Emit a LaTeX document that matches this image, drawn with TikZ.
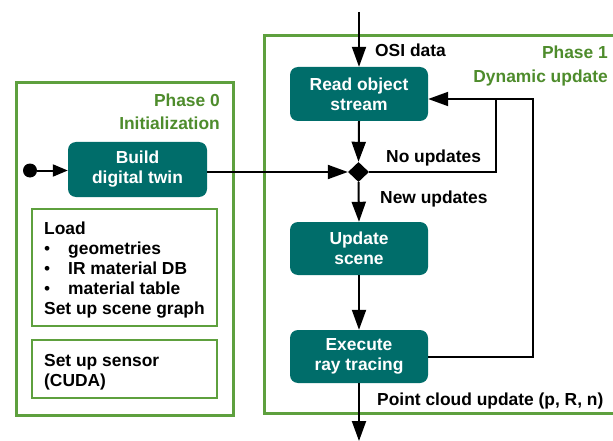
\documentclass[tikz,border=0pt]{standalone}
\usepackage{fontspec}
\setmainfont{Liberation Sans}
\usetikzlibrary{arrows.meta,shapes.geometric}
\definecolor{teal1}{HTML}{006D6A}
\definecolor{grn}{HTML}{5EA03E}
\definecolor{grntxt}{HTML}{4E8C2C}
\tikzset{
  txt/.style={font=\fontsize{17.4}{20}\selectfont\bfseries, inner sep=0pt},
  stepbox/.style={draw=none, fill=teal1, text=white, rounded corners=8pt, minimum width=138pt, minimum height=54pt, align=center, txt},
  phasebox/.style={draw=grn, line width=3pt},
  subbox/.style={draw=grn, line width=2pt},
  phaselbl/.style={txt, text=grntxt, align=right, font=\fontsize{17.4}{23.5}\selectfont\bfseries, anchor=base east},
  arr/.style={line width=2pt, -{Triangle[length=20pt,width=14pt]}},
  sarr/.style={line width=2pt, -{Triangle[length=15pt,width=12pt]}},
  ln/.style={line width=2pt},
  lbl/.style={txt, anchor=base west, align=left},
}
\begin{document}
\begin{tikzpicture}[x=1pt,y=-1pt]
\clip (0,0) rectangle (613,441);
\fill[white] (0,0) rectangle (613,441);
% phase boxes
\draw[phasebox] (16,83) rectangle (233,415);
\draw[phasebox] (264,36) rectangle (640,413);
\node[phaselbl] (p0) at (220,130) {Phase 0\\Initialization};
\node[phaselbl] (p1) at (608,82.5) {Phase 1\\Dynamic update};
% phase 0 content
\node[stepbox, minimum width=139pt, minimum height=55pt] (build) at (137.5,169.5) {Build\\digital twin};
\node[circle, fill=black, minimum size=14pt, inner sep=0pt] (start) at (30,170.5) {};
\draw[sarr] (start) -- (build.west |- start);
\draw[subbox] (32,209) rectangle (217,326);
\draw[subbox] (32,340) rectangle (217,398);
\node[lbl] (load) at (44,314) {Load\\\makebox[24pt][l]{\mdseries•}geometries\\\makebox[24pt][l]{\mdseries•}IR material DB\\\makebox[24pt][l]{\mdseries•}material table\\Set up scene graph};
\node[lbl] (sensor) at (44,386) {Set up sensor\\(CUDA)};
% phase 1 content
\node[stepbox] (read) at (359,94) {Read object\\stream};
\node[stepbox, minimum height=53pt] (update) at (359,248.5) {Update\\scene};
\node[stepbox, minimum height=53pt] (exec) at (359,356.5) {Execute\\ray tracing};
\node[diamond, fill=black, inner sep=0pt, minimum width=21pt, minimum height=20pt] (dia) at (358.5,172) {};
\coordinate (top) at (359,12);
\coordinate (bot) at (359,441);
\coordinate (cA) at (496,99);
\coordinate (cB) at (533,99);
\draw[arr] (top) -- (read.north);
\draw[arr] (read.south) -- (dia.north);
\draw[arr] (build.east |- dia.west) -- (dia.west);
\draw[arr] (dia.south) -- (update.north);
\draw[arr] (update.south) -- (exec.north);
\draw[arr] (exec.south) -- (bot);
\draw[ln] (dia.east) -| (cA);
\draw[arr] (exec.east) -| (cB) -- (read.east |- cB);
% labels
\node[lbl] (osi) at (375,57) {OSI data};
\node[lbl] (noup) at (386,163) {No updates};
\node[lbl] (newup) at (380,203) {New updates};
\node[lbl] (pc) at (377,405) {Point cloud update (p, R, n)};
\end{tikzpicture}
\end{document}
